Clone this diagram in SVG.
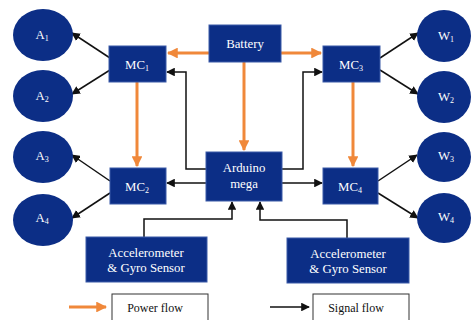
<svg xmlns="http://www.w3.org/2000/svg" width="471" height="320" viewBox="0 0 471 320">
<defs>
<style>
.n{fill:#0c2e86;stroke:#3a5aa8;stroke-width:1}
.e{fill:#0c2e86}
text{font-family:'Liberation Serif','Times New Roman',Times,serif}
.t{fill:#fff;font-size:12.8px;text-anchor:middle}
.s{font-size:8px}
.p{fill:none;stroke:#f0883a;stroke-width:3}
.g{fill:none;stroke:#111;stroke-width:1.5}
.l{fill:#fff;stroke:#333;stroke-width:1}
.lt{fill:#111;font-size:12px;text-anchor:middle}
</style>
<marker id="ao" viewBox="0 0 10 10" refX="9" refY="5" markerWidth="3.8" markerHeight="3.6" orient="auto" markerUnits="strokeWidth"><path d="M0,0L10,5L0,10z" fill="#f0883a"/></marker>
<marker id="ab" viewBox="0 0 10 10" refX="9" refY="5" markerWidth="5.8" markerHeight="5.8" orient="auto" markerUnits="strokeWidth"><path d="M0,0L10,5L0,10z" fill="#111"/></marker>
</defs>
<rect width="471" height="320" fill="#fff"/>
<g id="connectors">
<path class="p" d="M209,53H168" marker-end="url(#ao)"/>
<path class="p" d="M281,53H321" marker-end="url(#ao)"/>
<path class="p" d="M244,62V150" marker-end="url(#ao)"/>
<path class="p" d="M137,82V166" marker-end="url(#ao)"/>
<path class="p" d="M353,82V166" marker-end="url(#ao)"/>
<path class="g" d="M206,169H186V72H167" marker-end="url(#ab)"/>
<path class="g" d="M282,169H303V72H322" marker-end="url(#ab)"/>
<path class="g" d="M206,183H167" marker-end="url(#ab)"/>
<path class="g" d="M282,183H322" marker-end="url(#ab)"/>
<path class="g" d="M144,237V219H232V202" marker-end="url(#ab)"/>
<path class="g" d="M347,238V220H260V202" marker-end="url(#ab)"/>
<path class="g" d="M110,58L72,33" marker-end="url(#ab)"/>
<path class="g" d="M110,70L72,94" marker-end="url(#ab)"/>
<path class="g" d="M110,181L72,155" marker-end="url(#ab)"/>
<path class="g" d="M110,193L72,218" marker-end="url(#ab)"/>
<path class="g" d="M380,58L418,33" marker-end="url(#ab)"/>
<path class="g" d="M380,70L418,94" marker-end="url(#ab)"/>
<path class="g" d="M378,181L417,155" marker-end="url(#ab)"/>
<path class="g" d="M378,193L418,218" marker-end="url(#ab)"/>
</g>
<g id="A1"><ellipse class="e" cx="43" cy="35" rx="30" ry="26"/><text class="t" x="42" y="39">A<tspan class="s" dy="2">1</tspan></text></g>
<g id="A2"><ellipse class="e" cx="43" cy="96" rx="30" ry="26"/><text class="t" x="42" y="100">A<tspan class="s" dy="2">2</tspan></text></g>
<g id="A3"><ellipse class="e" cx="43" cy="157" rx="30" ry="26"/><text class="t" x="42" y="160">A<tspan class="s" dy="2">3</tspan></text></g>
<g id="A4"><ellipse class="e" cx="43" cy="220" rx="30" ry="26"/><text class="t" x="42" y="222">A<tspan class="s" dy="2">4</tspan></text></g>
<g id="W1"><ellipse class="e" cx="444" cy="36" rx="27" ry="26"/><text class="t" x="446" y="40">W<tspan class="s" dy="2">1</tspan></text></g>
<g id="W2"><ellipse class="e" cx="444" cy="97" rx="27" ry="26"/><text class="t" x="446" y="101">W<tspan class="s" dy="2">2</tspan></text></g>
<g id="W3"><ellipse class="e" cx="444" cy="157" rx="27" ry="25"/><text class="t" x="446" y="160">W<tspan class="s" dy="2">3</tspan></text></g>
<g id="W4"><ellipse class="e" cx="444" cy="218" rx="27" ry="25"/><text class="t" x="446" y="221">W<tspan class="s" dy="2">4</tspan></text></g>
<g id="MC1"><rect class="n" x="109" y="46" width="57" height="36"/><text class="t" x="137" y="69">MC<tspan class="s" dy="2">1</tspan></text></g>
<g id="MC2"><rect class="n" x="110" y="168" width="56" height="36"/><text class="t" x="137" y="191">MC<tspan class="s" dy="2">2</tspan></text></g>
<g id="MC3"><rect class="n" x="323" y="46" width="57" height="36"/><text class="t" x="351" y="69">MC<tspan class="s" dy="2">3</tspan></text></g>
<g id="MC4"><rect class="n" x="323" y="168" width="55" height="36"/><text class="t" x="350" y="191">MC<tspan class="s" dy="2">4</tspan></text></g>
<g id="Battery"><rect class="n" x="209" y="25" width="72" height="37"/><text class="t" x="245" y="48">Battery</text></g>
<g id="Arduino"><rect class="n" x="206" y="152" width="76" height="49"/><text class="t" x="244" y="172">Arduino</text><text class="t" x="244" y="188">mega</text></g>
<g id="Accel1"><rect class="n" x="86" y="237" width="121" height="45"/><text class="t" x="146" y="257">Accelerometer</text><text class="t" x="146" y="272">&amp; Gyro Sensor</text></g>
<g id="Accel2"><rect class="n" x="287" y="238" width="122" height="45"/><text class="t" x="348" y="258">Accelerometer</text><text class="t" x="348" y="273">&amp; Gyro Sensor</text></g>
<g id="legend">
<path class="p" d="M69,307H106" marker-end="url(#ao)"/>
<rect class="l" x="112" y="294" width="96" height="32"/>
<text class="lt" x="155" y="312">Power flow</text>
<path class="g" d="M270,307H309" marker-end="url(#ab)"/>
<rect class="l" x="313" y="294" width="96" height="32"/>
<text class="lt" x="356" y="312">Signal flow</text>
</g>
</svg>
